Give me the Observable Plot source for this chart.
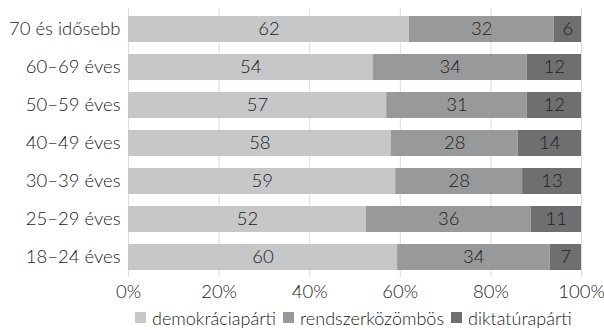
<!DOCTYPE html>
<html>
<head>
<meta charset="utf-8">
<script src="https://cdn.jsdelivr.net/npm/d3@7"></script>
<script src="https://cdn.jsdelivr.net/npm/@observablehq/plot@0.6"></script>
<style>
  body { margin: 0; background: #fff; font-family: Lato, sans-serif; font-weight: 300; }
  #legend { display: flex; gap: 7px; margin-left: 135px; font-size: 18px; color: #222; height: 25px; align-items: center; }
  #legend span.item { display: flex; align-items: center; gap: 6px; }
  #legend span.sw { width: 11px; height: 11px; display: inline-block; }
</style>
</head>
<body>
<div id="chart"></div>
<div id="legend"></div>
<script>
const categories = ["70 és idősebb","60–69 éves","50–59 éves","40–49 éves","30–39 éves","25–29 éves","18–24 éves"];
const seriesNames = ["demokráciapárti","rendszerközömbös","diktatúrapárti"];
const seriesColors = ["#c6c7c9","#98999b","#6e6f71"];
const demokraciaparti = [62,54,57,58,59,52,60];
const rendszerkozombos = [32,34,31,28,28,36,34];
const diktaturaparti = [6,12,12,14,13,11,7];
const xTicks = [0,0.2,0.4,0.6,0.8,1];

const seriesValues = [demokraciaparti, rendszerkozombos, diktaturaparti];
const data = [];
categories.forEach((c, i) => {
  seriesNames.forEach((s, j) => data.push({cat: c, series: s, value: seriesValues[j][i]}));
});

const chart = Plot.plot({
  width: 604,
  height: 305,
  marginTop: 8,
  marginBottom: 28,
  marginLeft: 128,
  marginRight: 23,
  style: {fontFamily: "Lato, sans-serif", fontSize: "18.5px", fontWeight: 300, color: "#222"},
  x: {domain: [0,1], ticks: xTicks, tickFormat: d => Math.round(d*100) + "%", label: null, tickSize: 0, tickPadding: 7},
  y: {domain: categories, label: null, tickSize: 0, tickPadding: 8, paddingInner: 0.32, paddingOuter: 0.16},
  color: {domain: seriesNames, range: seriesColors},
  marks: [
    Plot.gridX(xTicks, {stroke: "#dcdcdc", strokeOpacity: 1, strokeWidth: 1}),
    Plot.barX(data, Plot.stackX({offset: "normalize", x: "value", y: "cat", z: "series", fill: "series", order: null})),
    Plot.text(data, Plot.stackX({offset: "normalize", x: "value", y: "cat", z: "series", text: "value", order: null, fill: "#222", fontSize: 18.5}))
  ]
});
document.getElementById("chart").appendChild(chart);

const legend = document.getElementById("legend");
seriesNames.forEach((s, j) => {
  const it = document.createElement("span");
  it.className = "item";
  const sw = document.createElement("span");
  sw.className = "sw";
  sw.style.background = seriesColors[j];
  it.appendChild(sw);
  it.appendChild(document.createTextNode(s));
  legend.appendChild(it);
});
</script>
</body>
</html>
